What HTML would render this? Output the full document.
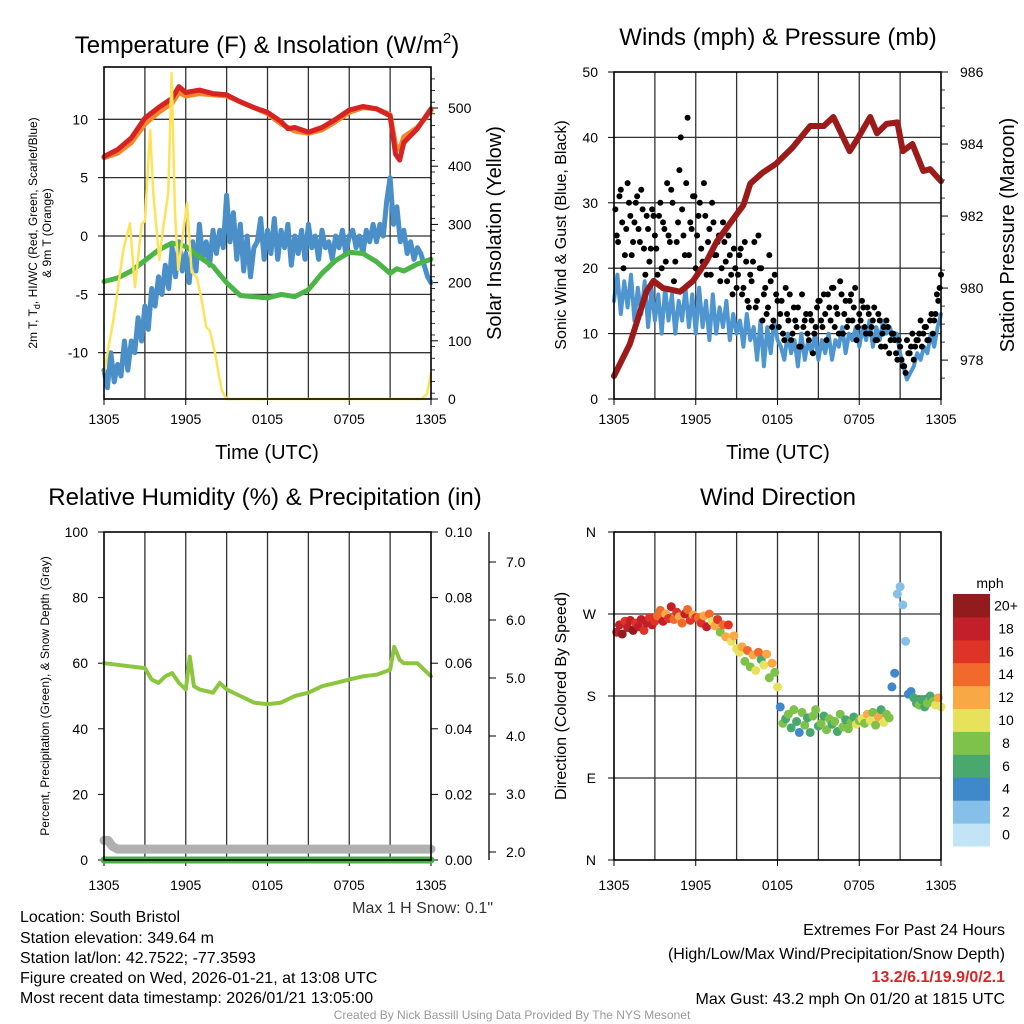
<!DOCTYPE html>
<html><head><meta charset="utf-8"><style>
body{margin:0;background:#fff;}
svg{display:block;font-family:"Liberation Sans",sans-serif;}
</style></head><body>
<svg id="c" width="1024" height="1024" viewBox="0 0 1024 1024">
<g id="g"></g>
<text x="267" y="53" font-size="24" text-anchor="middle">Temperature (F) &amp; Insolation (W/m<tspan font-size="15" dy="-10">2</tspan><tspan dy="10">)</tspan></text>
<text x="778" y="45" font-size="24" text-anchor="middle">Winds (mph) &amp; Pressure (mb)</text>
<text x="265" y="505" font-size="24" text-anchor="middle">Relative Humidity (%) &amp; Precipitation (in)</text>
<text x="778" y="505" font-size="24" text-anchor="middle">Wind Direction</text>
<text x="267" y="459" font-size="20" text-anchor="middle">Time (UTC)</text>
<text x="778" y="459" font-size="20" text-anchor="middle">Time (UTC)</text>
<text transform="translate(37,233) rotate(-90)" font-size="12" text-anchor="middle">2m T, T<tspan font-size="9" dy="3">d</tspan><tspan dy="-3">, HI/WC (Red, Green, Scarlet/Blue)</tspan></text>
<text transform="translate(51,233) rotate(-90)" font-size="12" text-anchor="middle">&amp; 9m T (Orange)</text>
<text transform="translate(501,233) rotate(-90)" font-size="20" text-anchor="middle">Solar Insolation (Yellow)</text>
<text transform="translate(566,235) rotate(-90)" font-size="16" text-anchor="middle">Sonic Wind &amp; Gust (Blue, Black)</text>
<text transform="translate(1014,235) rotate(-90)" font-size="20" text-anchor="middle">Station Pressure (Maroon)</text>
<text transform="translate(49,696) rotate(-90)" font-size="12" text-anchor="middle">Percent, Precipitation (Green), &amp; Snow Depth (Gray)</text>
<text transform="translate(566,696) rotate(-90)" font-size="16" text-anchor="middle">Direction (Colored By Speed)</text>
<text x="493" y="913" font-size="16" text-anchor="end" fill="#333">Max 1 H Snow: 0.1"</text>
<text x="990" y="588" font-size="14" text-anchor="middle">mph</text>
<g font-size="16">
<text x="20" y="922">Location: South Bristol</text>
<text x="20" y="943">Station elevation: 349.64 m</text>
<text x="20" y="963">Station lat/lon: 42.7522; -77.3593</text>
<text x="20" y="983">Figure created on Wed, 2026-01-21, at 13:08 UTC</text>
<text x="20" y="1003">Most recent data timestamp: 2026/01/21 13:05:00</text>
</g>
<g font-size="16" text-anchor="end">
<text x="1005" y="935">Extremes For Past 24 Hours</text>
<text x="1005" y="959">(High/Low/Max Wind/Precipitation/Snow Depth)</text>
<text x="1005" y="982" fill="#d62728" font-weight="bold">13.2/6.1/19.9/0/2.1</text>
<text x="1005" y="1004">Max Gust: 43.2 mph On 01/20 at 1815 UTC</text>
</g>
<text x="512" y="1019" font-size="12" fill="#999" text-anchor="middle">Created By Nick Bassill Using Data Provided By The NYS Mesonet</text>
</svg>
<script>
const xLabels=["1305","1905","0105","0705","1305"];
const tempTicks=[10,5,0,-5,-10];
const solarTicks=[0,100,200,300,400,500];
const windTicks=[0,10,20,30,40,50];
const presTicks=[978,980,982,984,986];
const rhTicks=[0,20,40,60,80,100];
const precipTicks=["0.00","0.02","0.04","0.06","0.08","0.10"];
const snowTicks=[2,3,4,5,6,7];
const dirLabels=["N","E","S","W","N"];
const cbLabels=["0","2","4","6","8","10","12","14","16","18","20+"];
const cbColors=["#c1e4f6","#86bfe7","#3f88c9","#49a86d","#7ec24b","#e7e15b","#f8a844","#f16a2b","#dd3427","#c21f2a","#921b1d"];

const redT=[0,1,2,3,4,5,5.5,6,7,8,9,10,11,12,13,13.5,14,15,16,17,18,19,20,21,21.4,21.7,22,23,24];
const redV=[6.8,7.4,8.4,10.1,11.0,11.8,12.8,12.3,12.5,12.2,12.1,11.5,11.0,10.6,9.8,9.2,9.3,8.9,9.3,10.0,10.8,11.1,10.9,10.3,7.0,6.5,8.0,9.2,10.9];
const orangeV=[6.7,7.1,8.0,9.6,10.6,11.4,12.3,12.0,12.2,12.1,12.0,11.5,11.0,10.5,9.6,9.3,9.0,8.8,9.1,9.8,10.6,11.0,10.9,10.4,7.8,7.4,8.5,9.3,10.7];
const greenT=[0,1,2,3,4,5,6,7,8,9,10,11,12,13,14,15,16,17,18,19,20,21,21.5,22,23,24];
const greenV=[-3.9,-3.6,-3.0,-2.1,-1.2,-0.6,-0.9,-1.8,-2.6,-4.0,-5.1,-5.2,-5.3,-5.0,-5.2,-4.6,-3.2,-2.1,-1.4,-1.5,-2.2,-3.2,-2.8,-3.0,-2.4,-2.0];
const blueV=[-11.5,-13,-10,-12.5,-11,-12,-9,-11.5,-9,
-10,-7,-9,-6,-8,-4.5,-6,-3.5,
-5,-2.5,-4.5,-1,-3.5,-0.5,-3,-1.5,
-4,-0.5,-3,1,-2,-0.5,-2.5,0.5,
-1.5,0.5,-1,3.5,-0.5,2,-2,1,
-3,0,-3.5,-1,-0.5,1.5,-2,0.5,
-1.5,1.5,-2,0.5,-1,1,-2.5,0,
-1.5,0.5,-2,1,-1,0,-2,0.5,
-1,-0.5,-2,0,-1,0.5,-1.5,0,
0.5,-1,0,-1.5,0.5,-0.5,1,-0.5,
1,0,3,5,1,2.5,-0.5,0.5,
-1.5,-0.5,-2,-1,-1.5,-2.5,-3.5,-4];
const solarT=[0,0.68,1.42,1.91,2.27,2.76,3.0,3.38,3.62,4.06,4.35,4.72,4.96,5.2,5.45,6.1,6.43,6.8,7.17,7.49,7.78,8.15,8.64,9,23.3,23.7,24];
const solarV=[45,135,256,302,192,300,306,462,354,239,296,354,560,325,222,337,218,210,170,124,117,79,15,0,0,8,45];

const presT=[0,1.17,2.4,2.9,3.6,4.85,5.8,6.8,7.55,9.0,9.5,10,10.9,11.9,13.1,14.4,15.4,16.1,17.3,17.8,18.8,19.3,20.0,20.8,21.2,21.9,22.7,23.2,24];
const presV=[977.56,978.45,979.92,980.2,980.0,979.9,980.2,980.75,981.3,982.05,982.3,982.9,983.2,983.45,983.9,984.5,984.5,984.75,983.8,984.1,984.75,984.3,984.56,984.6,983.8,984.0,983.25,983.3,982.97];
const windV=[15,19,13,18,14,19,12,17,13,
18,11,17,12,16,10,17,12,
16,10,15,12,17,11,16,10,
17,11,15,9,16,10,14,11,
15,9,13,10,12,8,13,9,
11,6,12,5,11,7,12,9,
8,6,10,7,9,5,10,6,
9,7,10,6,9,7,10,6,
9,8,11,7,10,9,11,8,
11,9,12,8,11,9,12,10,
11,9,10,7,5,3,4,5,
7,6,8,7,10,8,11,13];
const gustV=[25,31,27,22,33,28,24,30,26,32,23,28,21,29,25,
19,30,27,21,25,32,18,24,35,29,22,43,27,31,20,
28,23,33,19,26,30,22,24,18,27,21,25,19,23,17,
22,16,24,15,19,21,14,25,20,16,13,22,11,19,15,
13,10,17,12,9,14,11,8,16,12,10,13,7,11,15,
12,16,9,14,17,11,13,18,10,15,12,16,14,9,13,
15,11,14,10,12,9,13,8,11,12,7,10,9,6,8,
5,4,7,8,6,9,10,8,11,9,12,10,13,15,19];
const gustV2=[29,24,32,20,26,30,22,27,31,24,29,19,26,23,28,
23,28,20,26,33,24,30,21,27,40,25,33,22,26,31,
25,30,21,28,24,19,27,22,25,20,24,18,22,16,20,
19,23,17,21,14,18,24,15,20,12,17,14,18,12,16,
11,15,9,13,16,10,12,14,8,11,13,9,12,10,14,
15,11,13,16,12,17,14,10,16,13,11,15,12,17,11,
12,14,10,13,11,14,9,12,10,8,11,9,10,7,9,
6,5,9,7,10,8,9,12,10,11,9,13,12,16,17];

const rhT=[0,1,2,3,3.5,4,4.5,5,5.5,6,6.3,6.6,7,8,8.5,9,10,11,12,13,14,15,16,17,18,19,20,21,21.3,21.7,22,23,24];
const rhV=[60,59.5,59,58.5,55,54,56,57,54,52,62,53,52,51,54,52,50,48,47.5,48,50,51,53,54,55,56,56.5,58,65,61,60,60,56];
const precipV=[0,0,0,0,0];
const snowT=[0,0.3,0.6,1,24];
const snowV=[2.2,2.2,2.1,2.05,2.05];

const dirV=[250,258,248,262,255,263,252,260,256,264,252,260,266,258,262,
268,274,262,270,265,278,264,272,267,260,270,275,263,269,266,
266,260,268,256,270,262,257,264,250,258,245,258,240,246,232,
228,234,218,230,212,225,208,228,220,214,226,200,216,206,190,
168,150,155,160,145,165,152,140,162,148,156,140,158,165,147,
150,158,143,155,149,152,141,160,146,154,144,151,157,149,153,
155,150,160,153,162,148,157,165,151,160,156,190,205,292,300,
280,240,182,185,178,172,170,176,168,172,180,174,170,178,168];
const dirS=[17,18,19,16,18,17,19,16,18,17,16,18,15,17,16,
14,13,17,12,15,18,13,16,12,14,17,13,15,12,16,
13,15,12,17,14,9,12,16,8,14,11,15,10,12,9,
10,12,8,14,7,11,9,13,6,10,12,8,11,7,9,
4,7,6,8,5,7,6,4,8,7,6,5,8,7,6,
7,6,8,7,5,8,6,7,8,6,7,8,6,9,8,
10,8,11,9,7,8,12,6,9,7,8,3,4,2,2,
2,2,4,4,6,6,7,5,6,8,6,7,10,11,10];

const NS="http://www.w3.org/2000/svg";
const G=document.getElementById('g');
function mk(tag,attrs,parent){const e=document.createElementNS(NS,tag);for(const k in attrs)e.setAttribute(k,attrs[k]);(parent||G).appendChild(e);return e;}
function lin(d0,d1,r0,r1){return v=>r0+(v-d0)*(r1-r0)/(d1-d0);}

const P1={x0:104,x1:431,y0:67,y1:399,lab:25};
const P2={x0:614,x1:941,y0:72,y1:399,lab:25};
const P3={x0:104,x1:431,y0:532,y1:860,lab:30};
const P4={x0:614,x1:941,y0:532,y1:860,lab:30};

function frame(P,name,hGrid){
  const g=mk('g',{});
  
  
  for(let i=1;i<8;i++){const x=P.x0+(P.x1-P.x0)*i/8;mk('line',{x1:x,x2:x,y1:P.y0,y2:P.y1,stroke:'#333','stroke-width':1.3},g);}
  hGrid.forEach(y=>mk('line',{x1:P.x0,x2:P.x1,y1:y,y2:y,stroke:'#333','stroke-width':1.3},g));
  xLabels.forEach((l,i)=>{const x=P.x0+(P.x1-P.x0)*i/4;
    mk('line',{x1:x,x2:x,y1:P.y1,y2:P.y1+6,stroke:'#000'},g);
    const t=mk('text',{x:x,y:P.y1+P.lab,'font-size':14,'text-anchor':'middle'});t.textContent=l;
    
    });
}
function border(P,name){const r=mk('rect',{x:P.x0,y:P.y0,width:P.x1-P.x0,height:P.y1-P.y0,fill:'none',stroke:'#000','stroke-width':1.6});
  
  }
function yLabel(x,y,txt,anchor,name){const t=mk('text',{x:x,y:y+5,'font-size':14,'text-anchor':anchor});t.textContent=txt;
  
  }
function path(xs,ys,fx,fy,attrs,name){let d='';xs.forEach((t,i)=>{d+=(i?'L':'M')+fx(t).toFixed(1)+','+fy(ys[i]).toFixed(1);});
  const p=mk('path',Object.assign({d:d,fill:'none','stroke-linejoin':'round','stroke-linecap':'round'},attrs));
  
  return p;}
const qT=blueV.map((v,i)=>i*0.25);

// Panel 1
{const P=P1;const fx=lin(0,24,P.x0,P.x1);const fy=lin(0,10,236,119.3);const fs=lin(0,500,399,108);
 frame(P,'temp',tempTicks.map(fy));
 tempTicks.forEach(v=>{mk('line',{x1:P.x0-6,x2:P.x0,y1:fy(v),y2:fy(v),stroke:'#000'});yLabel(P.x0-16,fy(v),String(v),'end','temp-y-tick');});
 solarTicks.forEach(v=>{mk('line',{x1:P.x1,x2:P.x1+7,y1:fs(v),y2:fs(v),stroke:'#000'});yLabel(P.x1+17,fs(v),String(v),'start','solar-y-tick');});
 for(let v=10;v<570;v+=20){if(v%100)mk('line',{x1:P.x1,x2:P.x1+4,y1:fs(v),y2:fs(v),stroke:'#000','stroke-width':0.8});}
 path(qT,blueV,fx,fy,{stroke:'#4a8fc7','stroke-width':5},'wind-chill-line');
 path(greenT,greenV,fx,fy,{stroke:'#4cb548','stroke-width':5},'dewpoint-line');
 path(redT,orangeV,fx,fy,{stroke:'#f5862a','stroke-width':5},'temp-9m-line');
 path(redT,redV,fx,fy,{stroke:'#d62424','stroke-width':5},'temp-2m-line');
 path(solarT,solarV,fx,fs,{stroke:'#fde35a','stroke-width':2.5},'solar-line');
 border(P,'temp');}
// Panel 2
{const P=P2;const fx=lin(0,24,P.x0,P.x1);const fy=lin(0,50,P.y1,P.y0);const fp=lin(986,976.92,72,399);
 frame(P,'wind',[10,20,30,40].map(fy));
 windTicks.forEach(v=>{mk('line',{x1:P.x0-6,x2:P.x0,y1:fy(v),y2:fy(v),stroke:'#000'});yLabel(P.x0-16,fy(v),String(v),'end','wind-y-tick');});
 presTicks.forEach(v=>{mk('line',{x1:P.x1,x2:P.x1+7,y1:fp(v),y2:fp(v),stroke:'#000'});yLabel(P.x1+19,fp(v),String(v),'start','pressure-y-tick');});
 for(let v=977.5;v<986;v+=0.5){if(v%2)mk('line',{x1:P.x1,x2:P.x1+4,y1:fp(v),y2:fp(v),stroke:'#000','stroke-width':0.8});}
 path(qT,windV,fx,fy,{stroke:'#4f96d0','stroke-width':4},'wind-speed-line');
 gustV.forEach((v,i)=>{const c=mk('circle',{cx:fx((i+1)*0.2),cy:fy(v),r:3,fill:'#000'});
   
   });
 gustV2.forEach((v,i)=>{const c=mk('circle',{cx:fx(0.1+i*0.2),cy:fy(v),r:3,fill:'#000'});
   
   });
 path(presT,presV,fx,fp,{stroke:'#9b1b1b','stroke-width':6},'pressure-line');
 border(P,'wind');}
// Panel 3
{const P=P3;const fx=lin(0,24,P.x0,P.x1);const fy=lin(0,100,P.y1,P.y0);const fsn=lin(2,7,852,562);
 frame(P,'rh',[]);
 rhTicks.forEach((v,i)=>{mk('line',{x1:P.x0-6,x2:P.x0,y1:fy(v),y2:fy(v),stroke:'#000'});yLabel(P.x0-16,fy(v),String(v),'end','rh-y-tick');
   mk('line',{x1:P.x1,x2:P.x1+7,y1:fy(v),y2:fy(v),stroke:'#000'});yLabel(P.x1+14,fy(v),precipTicks[i],'start','precip-y-tick');});
 mk('line',{x1:489,x2:489,y1:P.y0,y2:P.y1,stroke:'#000','stroke-width':1.3});
 snowTicks.forEach(v=>{mk('line',{x1:489,x2:496,y1:fsn(v),y2:fsn(v),stroke:'#000'});yLabel(506,fsn(v),v.toFixed(1),'start','snow-y-tick');});
 path(snowT,snowV,fx,fsn,{stroke:'#b0b0b0','stroke-width':9},'snow-depth-line');
 path([0,6,12,18,24],precipV,fx,fy,{stroke:'#46b045','stroke-width':7},'precip-line');
 path(rhT,rhV,fx,fy,{stroke:'#8cc63f','stroke-width':4},'rh-line');
 border(P,'rh');}
// Panel 4
{const P=P4;const fx=lin(0,24,P.x0,P.x1);const fd=lin(0,360,P.y1,P.y0);
 frame(P,'dir',[90,180,270].map(fd));
 dirLabels.forEach((l,i)=>{mk('line',{x1:P.x0-6,x2:P.x0,y1:fd(i*90),y2:fd(i*90),stroke:'#000'});yLabel(P.x0-18,fd(i*90),l,'end','dir-y-tick');});
 dirV.forEach((v,i)=>{const idx=Math.max(0,Math.min(10,Math.round(dirS[i]/2)));
   const c=mk('circle',{cx:fx((i+1)*0.2),cy:fd(v),r:4.5,fill:cbColors[idx]});
   
   });
 border(P,'dir');
 const h=252/11;
 cbColors.forEach((c,i)=>{const y=846-(i+1)*h;const r=mk('rect',{x:953,y:y,width:37,height:h+0.5,fill:c});
   
   
   yLabel(1006,y+h/2,cbLabels[i],'middle','colorbar-label');});}
</script>
</body></html>
